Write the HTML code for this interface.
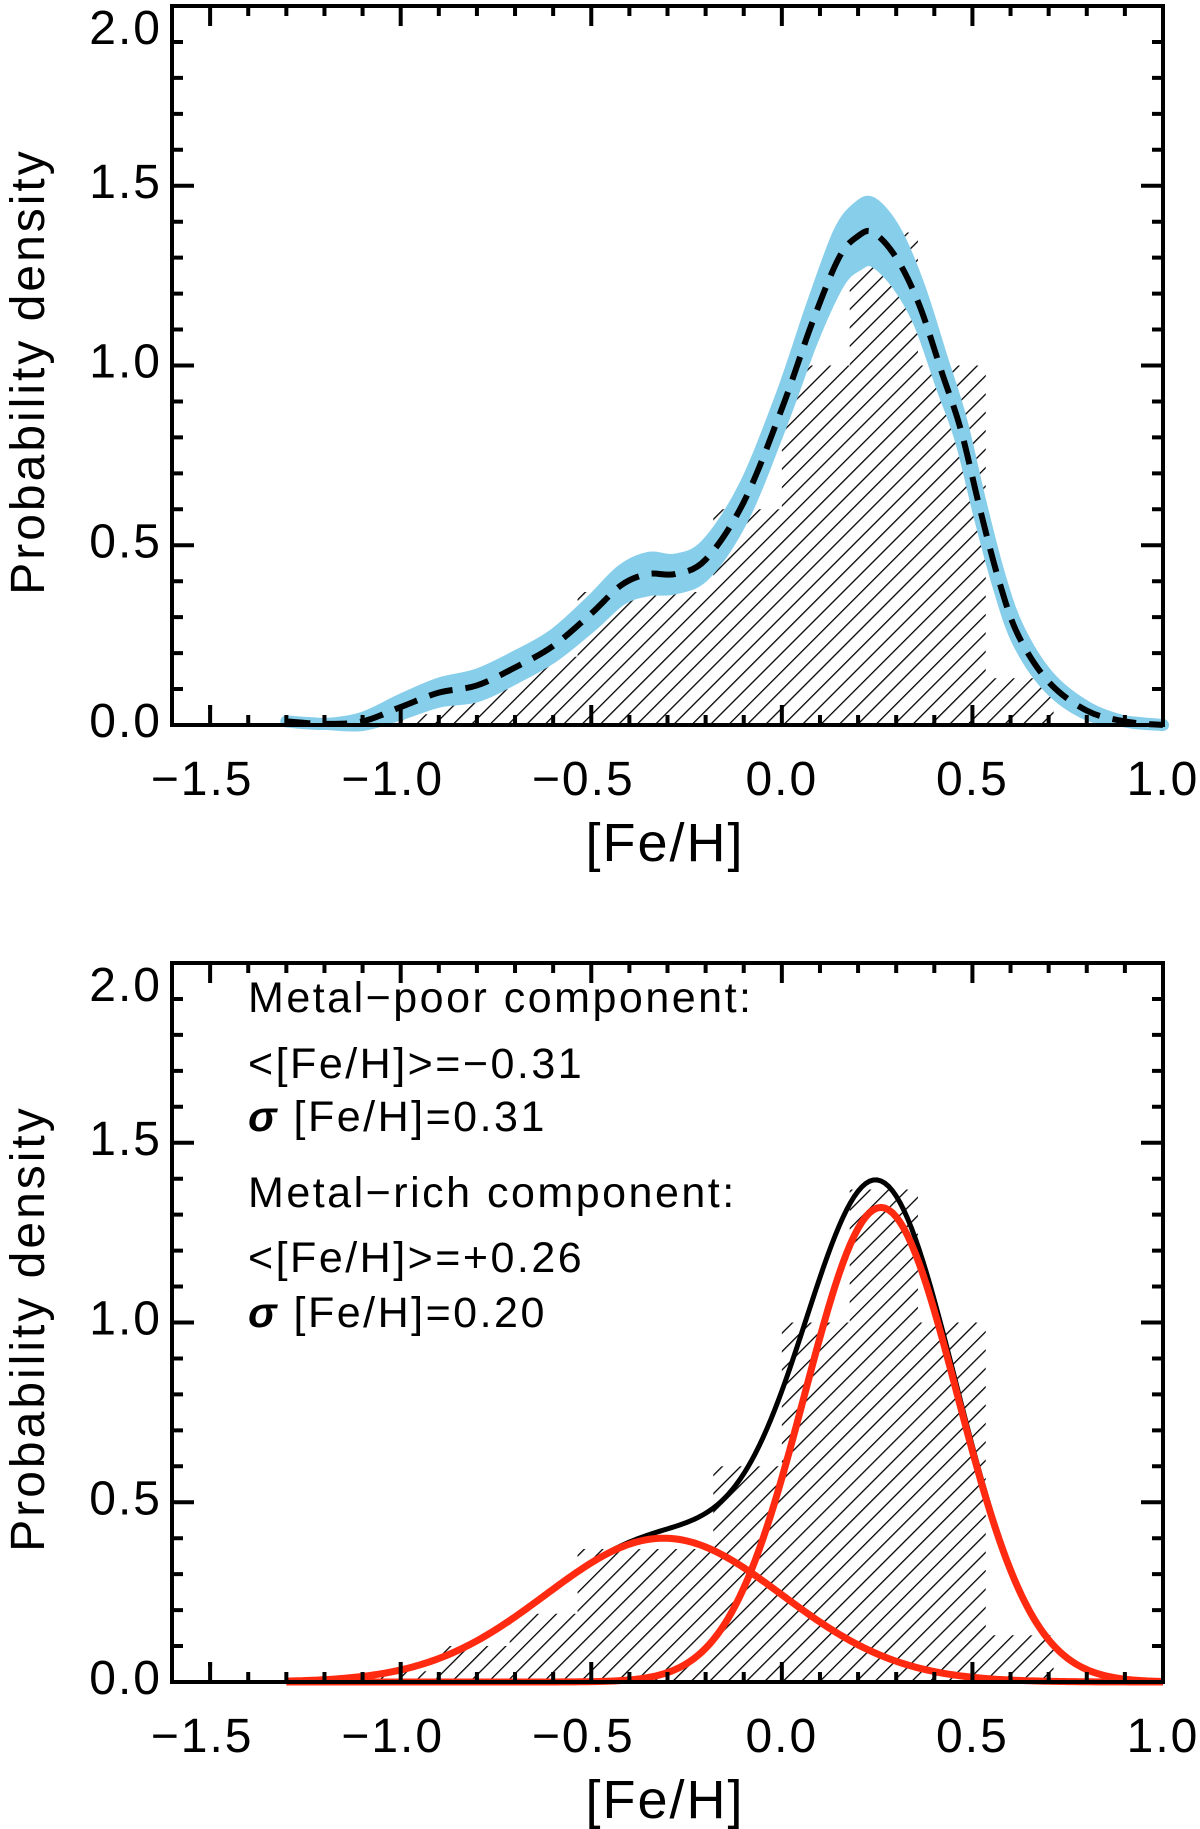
<!DOCTYPE html>
<html><head><meta charset="utf-8"><style>
html,body{margin:0;padding:0;background:#fff;}
svg{display:block;font-family:"Liberation Sans","DejaVu Sans",sans-serif;}
</style></head><body>
<svg id="fig" width="1200" height="1829" viewBox="0 0 1200 1829" xmlns="http://www.w3.org/2000/svg">
<defs>
<pattern id="hatch" patternUnits="userSpaceOnUse" width="13" height="13" patternTransform="rotate(45)">
<line x1="0" y1="0" x2="0" y2="13" stroke="#000" stroke-width="2.6"/>
</pattern>
</defs>
<g id="top"></g>
<g id="bot"></g>
</svg>
<script>
// Histogram data (shared)
const histEdges = [-1.07, -0.892, -0.714, -0.536, -0.358, -0.18, 0.0, 0.178, 0.357, 0.535, 0.713];
const histHeights = [0.03, 0.10, 0.19, 0.37, 0.37, 0.60, 1.00, 1.37, 1.00, 0.13];
// KDE (top)
const kdeX = [-1.3,-1.2,-1.1,-1.0,-0.9,-0.8,-0.7,-0.6,-0.5,-0.42,-0.35,-0.28,-0.2,-0.1,0.0,0.08,0.15,0.2,0.24,0.3,0.36,0.42,0.47,0.52,0.57,0.62,0.7,0.8,0.9,1.0];
const kdeY = [0.01,0.003,0.01,0.05,0.09,0.11,0.16,0.22,0.31,0.39,0.42,0.42,0.46,0.62,0.88,1.12,1.30,1.36,1.37,1.30,1.17,0.98,0.82,0.60,0.40,0.25,0.12,0.04,0.01,0.0];
const bandHalf = [0.0,0.0,0.01,0.02,0.025,0.03,0.03,0.03,0.035,0.04,0.045,0.04,0.04,0.04,0.04,0.05,0.07,0.08,0.08,0.07,0.05,0.04,0.03,0.025,0.02,0.02,0.015,0.01,0.0,0.0];
// Gaussian components (bottom)
const compMean = [-0.31, 0.26];
const compSigma = [0.31, 0.20];
const compAmp = [0.40, 1.32];
const xTicks = [-1.5,-1.0,-0.5,0.0,0.5,1.0];
const xTickLabels = ["\u22121.5","\u22121.0","\u22120.5","0.0","0.5","1.0"];
const yTicks = [0.0,0.5,1.0,1.5,2.0];
const yTickLabels = ["0.0","0.5","1.0","1.5","2.0"];

const NS = "http://www.w3.org/2000/svg";
function mk(tag, attrs, parent){const e=document.createElementNS(NS,tag);for(const k in attrs)e.setAttribute(k,attrs[k]);parent.appendChild(e);return e;}
// Catmull-Rom smoothing through points
function smooth(pts, start){
  let d = start ? ("M" + pts[0][0] + "," + pts[0][1]) : (" L" + pts[0][0] + "," + pts[0][1]);
  for (let i = 0; i < pts.length - 1; i++) {
    const p0 = pts[Math.max(0,i-1)], p1 = pts[i], p2 = pts[i+1], p3 = pts[Math.min(pts.length-1,i+2)];
    const c1x = p1[0] + (p2[0]-p0[0])/6, c1y = p1[1] + (p2[1]-p0[1])/6;
    const c2x = p2[0] - (p3[0]-p1[0])/6, c2y = p2[1] - (p3[1]-p1[1])/6;
    d += " C" + c1x + "," + c1y + " " + c2x + "," + c2y + " " + p2[0] + "," + p2[1];
  }
  return d;
}

function panel(g, top, bottom, kind){
  const L=172, R=1163;
  const sx = v => L + (v + 1.6) / 2.6 * (R - L);
  const sy = v => bottom - v / 2.0 * (bottom - top);
  let d = "M" + sx(histEdges[0]) + "," + sy(0);
  for (let i = 0; i < histHeights.length; i++) {
    d += " L" + sx(histEdges[i]) + "," + sy(histHeights[i]) + " L" + sx(histEdges[i+1]) + "," + sy(histHeights[i]);
  }
  d += " L" + sx(histEdges[histEdges.length-1]) + "," + sy(0) + " Z";
  const h = mk("path", {d: d, fill: "url(#hatch)", stroke: "none"}, g);
  
  
  const dot = mk("rect", {x: sx(-1.5)-2, y: sy(0.05)-2, width: 4, height: 4, fill: "#000"}, g);
  
  
  if (kind === "top") {
    const upPts = kdeX.map((x,i) => [sx(x), sy(kdeY[i] + bandHalf[i])]);
    const loPts = kdeX.map((x,i) => [sx(x), sy(Math.max(0, kdeY[i] - bandHalf[i]))]).reverse();
    const band = mk("path", {d: smooth(upPts, true) + smooth(loPts, false) + " Z", fill: "#87ceeb", stroke: "#87ceeb", "stroke-width": 12, "stroke-linejoin": "round"}, g);
    
    
    const midPts = kdeX.map((x,i) => [sx(x), sy(kdeY[i])]);
    const k = mk("path", {d: smooth(midPts, true), fill: "none", stroke: "#000", "stroke-width": 6, "stroke-dasharray": "24,13"}, g);
    
    
  } else {
    const gauss = (x, j) => compAmp[j] * Math.exp(-Math.pow(x - compMean[j], 2) / (2 * compSigma[j] * compSigma[j]));
    let tot = "", c0 = "", c1 = "";
    for (let x = -1.3; x <= 1.0001; x += 0.01) {
      const pre = tot ? " L" : "M";
      tot += pre + sx(x) + "," + sy(gauss(x,0) + gauss(x,1));
      c0 += pre + sx(x) + "," + sy(gauss(x,0));
      c1 += pre + sx(x) + "," + sy(gauss(x,1));
    }
    const t = mk("path", {d: tot, fill: "none", stroke: "#000", "stroke-width": 5}, g);
    
    
    const a = mk("path", {d: c0, fill: "none", stroke: "#ff2a10", "stroke-width": 7}, g);
    
    
    const b = mk("path", {d: c1, fill: "none", stroke: "#ff2a10", "stroke-width": 7}, g);
    
    
  }
  const fr = mk("rect", {x: L, y: top, width: R - L, height: bottom - top, fill: "none", stroke: "#000", "stroke-width": 4}, g);
  
  
  let td = "";
  for (let i = -16; i <= 10; i++) {
    const x = sx(i / 10);
    const len = (i % 5 === 0) ? 20 : 10;
    td += "M" + x + "," + bottom + " V" + (bottom - len) + " M" + x + "," + top + " V" + (top + len) + " ";
  }
  for (let i = 0; i <= 20; i++) {
    const y = sy(i / 10);
    const len = (i % 5 === 0) ? 22 : 11;
    td += "M" + L + "," + y + " H" + (L + len) + " M" + R + "," + y + " H" + (R - len) + " ";
  }
  const tk = mk("path", {d: td, stroke: "#000", "stroke-width": 4, fill: "none"}, g);
  
  
  xTicks.forEach((v, i) => {
    const t = mk("text", {x: sx(v) - (v < 0 ? 8 : 0), y: bottom + 70, "text-anchor": "middle", "font-size": 48, "letter-spacing": 2}, g);
    t.textContent = xTickLabels[i];
    
    
  });
  yTicks.forEach((v, i) => {
    const t = mk("text", {x: L - 10, y: Math.max(sy(v) + 12, top + 38), "text-anchor": "end", "font-size": 48, "letter-spacing": 2}, g);
    t.textContent = yTickLabels[i];
    
    
  });
  const xt = mk("text", {x: 665, y: bottom + 136, "text-anchor": "middle", "font-size": 54, "letter-spacing": 2}, g);
  xt.textContent = "[Fe/H]";
  
  
  const yc = (top + bottom) / 2;
  const yt = mk("text", {x: 0, y: 0, transform: "translate(44," + (yc + 6) + ") rotate(-90)", "text-anchor": "middle", "font-size": 48, "letter-spacing": 3}, g);
  yt.textContent = "Probability density";
  
  
}
panel(document.getElementById('top'), 6, 725, "top");
panel(document.getElementById('bot'), 963, 1682, "bot");

const bot = document.getElementById('bot');
const lines = [
  [996, "Metal\u2212poor component:", false],
  [1062, "<[Fe/H]>=\u22120.31", false],
  [1115, "\u03c3 [Fe/H]=0.31", true],
  [1191, "Metal\u2212rich component:", false],
  [1256, "<[Fe/H]>=+0.26", false],
  [1311, "\u03c3 [Fe/H]=0.20", true]
];
lines.forEach(l => {
  const t = mk("text", {x: 248, y: l[0] + 16, "font-size": 43, "letter-spacing": 2.5}, bot);
  if (l[2]) {
    const s = mk("tspan", {"font-weight": "bold", "font-style": "italic"}, t);
    s.textContent = "\u03c3";
    const r = mk("tspan", {}, t);
    r.textContent = l[1].slice(1);
  } else t.textContent = l[1];
  
  
});
</script>
</body></html>
